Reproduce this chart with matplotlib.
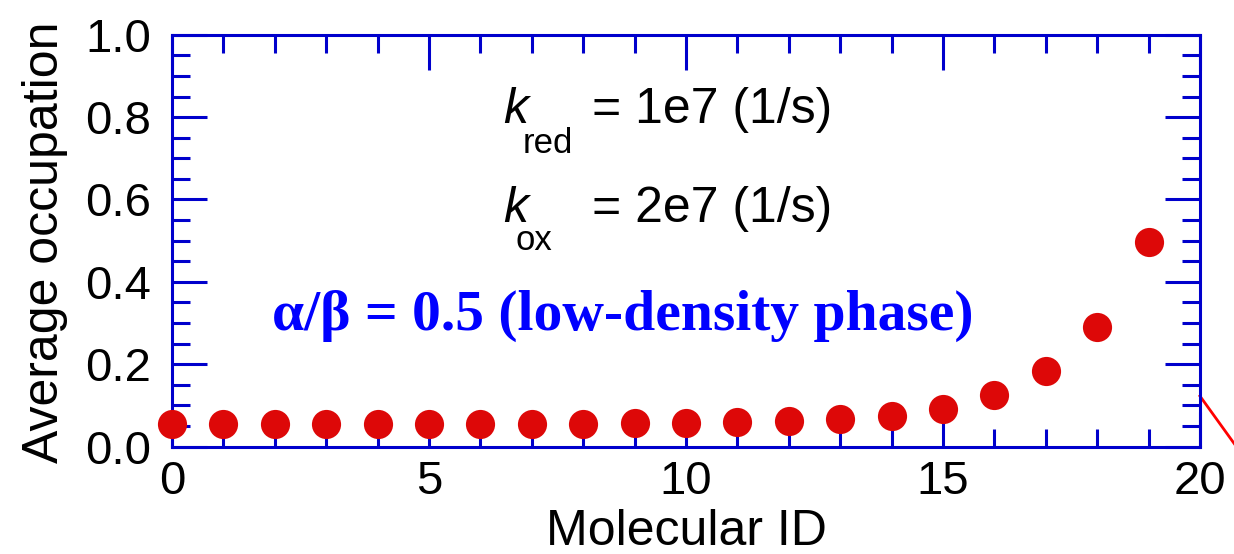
import matplotlib
matplotlib.use("Agg")
import matplotlib.pyplot as plt
from matplotlib.ticker import MultipleLocator

# average occupation of each site (low-density phase profile)
molecule_id = list(range(20))
occupation = [0.055, 0.054, 0.054, 0.054, 0.054, 0.054, 0.055, 0.055, 0.055, 0.056,
              0.057, 0.059, 0.062, 0.066, 0.075, 0.092, 0.124, 0.183, 0.290, 0.496]

k_red_text = "= 1e7 (1/s)"
k_ox_text = "= 2e7 (1/s)"
phase_text = "\u03b1/\u03b2 = 0.5 (low-density phase)"

frame_blue = "#0000cc"
dot_red = "#dd0808"

plt.rcParams["font.family"] = ["Liberation Sans", "DejaVu Sans"]

fig = plt.figure(figsize=(12.34, 5.54), dpi=100)
ax = fig.add_axes([0.1394, 0.194, 0.8330, 0.7433])

ax.plot(molecule_id, occupation, "o", color=dot_red, markersize=21,
        markeredgewidth=0, clip_on=False, zorder=5)

# stray red line just outside the right edge
ax.plot([20, 20.8], [0.1226, -0.016], color="#ff0000", lw=2, clip_on=False)

ax.set_xlim(0, 20)
ax.set_ylim(0, 1.0)
ax.xaxis.set_major_locator(MultipleLocator(5))
ax.xaxis.set_minor_locator(MultipleLocator(1))
ax.yaxis.set_major_locator(MultipleLocator(0.2))
ax.yaxis.set_minor_locator(MultipleLocator(0.05))
ax.yaxis.set_major_formatter(lambda v, p: f"{v:.1f}")

for s in ax.spines.values():
    s.set_color(frame_blue)
    s.set_linewidth(2.2)

ax.tick_params(which="both", direction="in", top=True, right=True,
               color=frame_blue, width=2.2, labelsize=34, labelcolor="black")
ax.tick_params(which="major", length=25)
ax.tick_params(which="minor", length=13)
ax.tick_params(axis="y", pad=15)
ax.tick_params(axis="x", pad=10)

ax.set_xlabel("Molecular ID", fontsize=36)
ax.set_ylabel("Average occupation", fontsize=36)
ax.xaxis.set_label_coords(0.5005, -0.152)
ax.yaxis.set_label_coords(-0.101, 0.495)

# rate constants
ax.text(6.44, 0.785, "k", fontsize=36, style="italic")
ax.text(6.83, 0.712, "red", fontsize=25)
ax.text(8.17, 0.785, k_red_text, fontsize=36)
ax.text(6.44, 0.546, "k", fontsize=36, style="italic")
ax.text(6.68, 0.477, "ox", fontsize=25)
ax.text(8.17, 0.546, k_ox_text, fontsize=36)

ax.text(1.95, 0.283, phase_text, fontsize=41.5, fontweight="bold",
        color="#0000ff", family=["Liberation Serif", "DejaVu Serif"])

fig.savefig("out.png", dpi=100)
